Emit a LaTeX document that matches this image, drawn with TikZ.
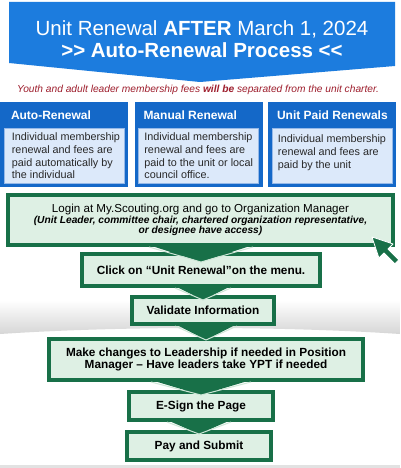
\documentclass[tikz,border=0pt]{standalone}
\usepackage{fontspec}
\setmainfont{Liberation Sans}
\usetikzlibrary{calc,positioning}
\definecolor{BannerBlue}{RGB}{28,124,222}
\definecolor{BoxBlue}{RGB}{20,104,200}
\definecolor{SoftBlue}{RGB}{220,233,250}
\definecolor{EdgeBlue}{RGB}{150,185,232}
\definecolor{NoteRed}{RGB}{158,30,45}
\definecolor{ForestGreen}{RGB}{24,112,72}
\definecolor{SoftGreen}{RGB}{222,240,228}
\definecolor{PaleEdge}{RGB}{205,230,214}
\definecolor{InkGray}{RGB}{40,40,40}
\definecolor{Swoosh}{RGB}{214,214,214}
\tikzset{
  headline/.style={text=white,font=\fontsize{20.5}{23}\selectfont,align=center},
  note/.style={text=NoteRed,font=\fontsize{10.2}{12}\selectfont\itshape},
  optbox/.style={fill=BoxBlue,minimum width=128pt,minimum height=85pt,inner sep=0pt},
  opthead/.style={text=white,font=\fontsize{12}{14}\selectfont\bfseries,anchor=west,inner sep=0pt},
  optbody/.style={fill=SoftBlue,draw=EdgeBlue,line width=.6pt,minimum width=120pt,minimum height=55pt,inner sep=0pt},
  opttext/.style={text=InkGray,font=\fontsize{10.8}{12.7}\selectfont,align=left,anchor=north west,inner sep=0pt},
  stepbox/.style={draw=ForestGreen,line width=4pt,fill=SoftGreen,align=center,text=black,font=\fontsize{11.8}{14}\selectfont\bfseries,inner sep=0pt},
  chevron/.style={fill=ForestGreen},
  chevedge/.style={draw=PaleEdge,line width=1pt},
  cursor/.style={fill=ForestGreen,draw=white,line width=.8pt,line join=round}
}
\newcommand{\chev}[4]{%
  \fill[chevron] ($(#1.south -| #2.north)+(-#3,-2)$) -- ($(#2.north)+(0,#4)$) -- ($(#1.south -| #2.north)+(#3,-2)$) -- cycle;
  \draw[chevedge] ($(#1.south -| #2.north)+(-#3,0)$) -- ($(#2.north)+(0,#4)$) -- ($(#1.south -| #2.north)+(#3,0)$);}

\begin{document}
\begin{tikzpicture}[x=1pt,y=-1pt]
  \useasboundingbox[fill=white] (0,0) rectangle (400,468);
  \shade[top color=white,bottom color=Swoosh] (0,300) -- (400,300) -- (400,334) .. controls (280,326) and (120,326) .. (0,334) -- cycle;
  \fill[Swoosh!70] (0,465) rectangle (400,468);

  \fill[BannerBlue] (9,2) -- (395,2) -- (395,66) -- (200,82) -- (9,63) -- cycle;
  \node[headline] (title) at (202,39) {Unit Renewal \textbf{AFTER} March 1, 2024\\[-1pt]\textbf{>{}> Auto-Renewal Process <{}<}};
  \node[note] (fees) at (198,90) {Youth and adult leader membership fees \textbf{will be} separated from the unit charter.};

  \node[optbox] (auto) at (64,144.5) {};
  \node[optbox] (manual) at (198.5,144.5) {};
  \node[optbox] (unitpaid) at (332,144.5) {};
  \node[opthead] at ($(auto.north west)+(11,13)$) {Auto-Renewal};
  \node[opthead] at ($(manual.north west)+(9,13)$) {Manual Renewal};
  \node[opthead] at ($(unitpaid.north west)+(9,13)$) {Unit Paid Renewals};
  \node[optbody,anchor=south] (autobody) at ($(auto.south)+(0,-4)$) {};
  \node[optbody,anchor=south] (manualbody) at ($(manual.south)+(0,-4)$) {};
  \node[optbody,anchor=south] (unitpaidbody) at ($(unitpaid.south)+(0,-4)$) {};
  \node[opttext] at ($(autobody.north west)+(8,5)$) {Individual membership\\renewal and fees are\\paid automatically by\\the individual};
  \node[opttext] at ($(manualbody.north west)+(6,5)$) {Individual membership\\renewal and fees are\\paid to the unit or local\\council office.};
  \node[opttext] at ($(unitpaidbody.north west)+(6,7)$) {Individual membership\\renewal and fees are\\paid by the unit};

  \node[stepbox,minimum width=385pt,minimum height=50pt,font=\fontsize{11.6}{13}\selectfont] (login) at (200.5,220)
    {Login at My.Scouting.org and go to Organization Manager\\[-2pt]
     {\bfseries\itshape\fontsize{10.2}{11}\selectfont (Unit Leader, committee chair, chartered organization representative,}\\[-3pt]
     {\bfseries\itshape\fontsize{10.2}{11}\selectfont or designee have access)}};
  \node[stepbox,minimum width=238pt,minimum height=32pt] (click) at (201,270) {Click on “Unit Renewal”on the menu.};
  \node[stepbox,minimum width=142pt,minimum height=27pt] (validate) at (203,310.5) {Validate Information};
  \node[stepbox,minimum width=314pt,minimum height=41pt] (changes) at (206,359.5) {Make changes to Leadership if needed in Position\\[-2pt]Manager – Have leaders take YPT if needed};
  \node[stepbox,minimum width=144pt,minimum height=28pt] (esign) at (201,406) {E-Sign the Page};
  \node[stepbox,minimum width=144pt,minimum height=28pt] (pay) at (199,446) {Pay and Submit};

  \chev{login}{click}{52}{10}
  \chev{click}{validate}{28}{5}
  \chev{validate}{changes}{31}{3}
  \chev{changes}{esign}{50}{5}
  \chev{esign}{pay}{32}{4}

  \draw[cursor,shift={(372,237)},scale=1.1] (0,0) -- (6.3,19.1) -- (10.9,14.5) -- (20.8,24.4) -- (24.4,20.8) -- (14.5,10.9) -- (19.1,6.3) -- cycle;
\end{tikzpicture}
\end{document}
